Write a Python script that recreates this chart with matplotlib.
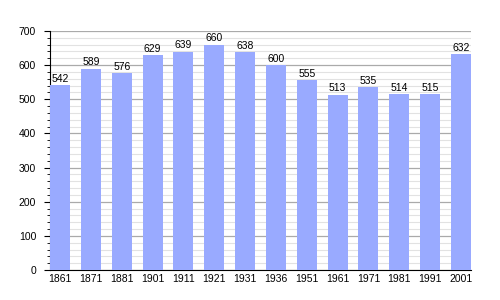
import matplotlib
matplotlib.use("Agg")
import matplotlib.pyplot as plt
from matplotlib.ticker import MultipleLocator

years = ["1861", "1871", "1881", "1901", "1911", "1921", "1931",
         "1936", "1951", "1961", "1971", "1981", "1991", "2001"]
population = [542, 589, 576, 629, 639, 660, 638, 600, 555, 513, 535, 514, 515, 632]

plt.rcParams['font.family'] = ['Liberation Sans', 'DejaVu Sans']

fig = plt.figure(figsize=(5, 3), dpi=100)
ax = fig.add_axes([0.1, 0.1, 0.842, 0.797])

width = 0.65
x = list(range(len(years)))
ax.bar(x, population, width=width, color="#99aaff", zorder=3)

for xi, v in zip(x, population):
    ax.text(xi, v + 4, str(v), ha="center", va="bottom", fontsize=7.5, zorder=4)

ax.set_xlim(-width / 2, len(years) - 1 + width / 2)
ax.set_ylim(0, 700)
ax.yaxis.set_major_locator(MultipleLocator(100))
ax.yaxis.set_minor_locator(MultipleLocator(20))
ax.grid(axis="y", which="major", color="#aaaaaa", linewidth=0.9, zorder=1)
ax.grid(axis="y", which="minor", color="#e2e2e2", linewidth=0.8, zorder=0)

ax.set_xticks(x)
ax.set_xticklabels(years)
ax.tick_params(axis="x", length=0, labelsize=7.5, pad=3)
ax.tick_params(axis="y", which="major", length=4, labelsize=7.5, pad=6)
ax.tick_params(axis="y", which="minor", length=2)

for s in ("top", "right"):
    ax.spines[s].set_visible(False)

fig.savefig("out.png", dpi=100)
